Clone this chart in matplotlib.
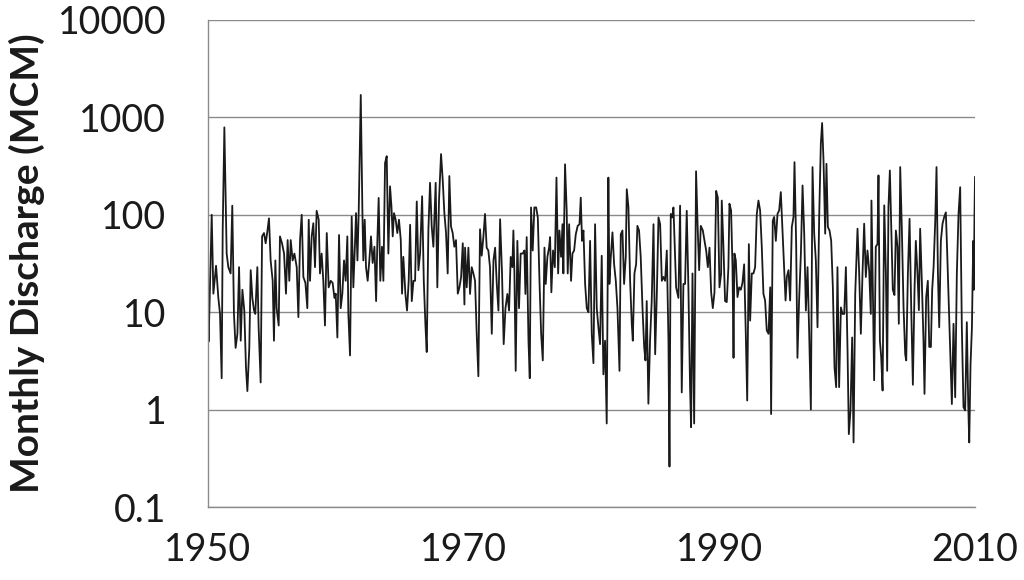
import numpy as np
import matplotlib.pyplot as plt
from matplotlib.ticker import FixedLocator, FixedFormatter

# Monthly discharge readings (turning points), years since 1950
t_1950s = [0.00, 0.05, 0.29, 0.42, 0.63, 0.81, 0.94, 1.07, 1.15, 1.28, 1.46, 1.59, 1.77, 1.90,
           2.03, 2.16, 2.30, 2.43, 2.56, 2.69, 2.84, 2.97, 3.08, 3.23, 3.34, 3.47, 3.60, 3.70,
           3.86, 3.96, 4.12, 4.23, 4.38, 4.51, 4.64, 4.77, 4.90, 5.06, 5.16, 5.27, 5.37, 5.53,
           5.63, 5.79, 5.95, 6.10, 6.23, 6.36, 6.47, 6.62, 6.76, 6.94, 7.07, 7.20, 7.33, 7.46,
           7.62, 7.77, 7.88, 7.98, 8.11, 8.24, 8.37, 8.50, 8.66, 8.76, 8.89, 9.02, 9.15, 9.29,
           9.44, 9.60, 9.75, 9.89]
q_1950s = [9, 5, 100, 15.5, 30, 14, 9.6, 2.1, 70, 790, 40, 29, 25, 124,
           9.6, 4.3, 6.0, 29, 5.1, 17, 10.4, 2.7, 1.55, 4.3, 27, 14, 10.4, 9.6,
           29, 7, 1.9, 60, 65, 51, 67, 92, 34, 21, 5.1, 34, 11, 7.3,
           60, 51, 40, 15.5, 55, 21, 55, 34, 40, 29, 8.9, 55, 100, 23,
           20, 11, 89, 21, 60, 82, 29, 110, 89, 25, 40, 21, 7.3, 65,
           18, 21, 20, 14]

t_1960s = [9.99, 10.12, 10.25, 10.38, 10.51, 10.64, 10.77, 10.90, 10.98, 11.11, 11.24, 11.37,
           11.50, 11.58, 11.69, 11.79, 11.95, 12.08, 12.15, 12.26, 12.36, 12.49, 12.62, 12.75,
           12.88, 13.02, 13.15, 13.25, 13.35, 13.48, 13.61, 13.72, 13.85, 13.98, 14.11, 14.24,
           14.35, 14.45, 14.55, 14.68, 14.81, 14.94, 15.08, 15.18, 15.28, 15.44, 15.57, 15.70,
           15.81, 15.94, 16.07, 16.20, 16.33, 16.46, 16.59, 16.75, 16.88, 17.01, 17.11, 17.24,
           17.37, 17.50, 17.63, 17.81, 17.94, 18.07, 18.23, 18.36, 18.49, 18.62, 18.75, 18.88,
           19.01, 19.14, 19.27, 19.40, 19.54, 19.67, 19.80, 19.93, 20.06]
q_1960s = [15.5, 5.5, 62, 11, 15.5, 34, 21, 60, 9.6, 3.6, 96, 18,
           51, 104, 34, 108, 1700, 104, 34, 89, 29, 21, 34, 60,
           32, 47, 13, 55, 149, 21, 47, 21, 340, 400, 40, 196,
           122, 60, 104, 89, 65, 89, 55, 15.5, 37, 15.5, 10.4, 21,
           79, 13, 21, 21, 137, 27, 40, 155, 21, 7.3, 3.9, 70,
           213, 76, 47, 213, 18, 140, 420, 230, 104, 65, 25, 250,
           76, 65, 47, 55, 15.5, 18, 23, 51, 12]

t_1970s = [20.11, 20.24, 20.37, 20.50, 20.63, 20.76, 20.89, 21.02, 21.15, 21.28, 21.41, 21.54,
           21.67, 21.80, 21.93, 22.06, 22.20, 22.33, 22.46, 22.59, 22.72, 22.85, 23.00, 23.13,
           23.27, 23.42, 23.55, 23.68, 23.81, 23.89, 23.97, 24.07, 24.20, 24.33, 24.46, 24.62,
           24.75, 24.83, 24.93, 25.07, 25.17, 25.27, 25.40, 25.53, 25.67, 25.80, 25.93, 26.06,
           26.19, 26.32, 26.42, 26.55, 26.68, 26.76, 26.86, 26.99, 27.13, 27.26, 27.39, 27.49,
           27.62, 27.73, 27.80, 27.93, 28.06, 28.14, 28.25, 28.40, 28.51, 28.64, 28.77, 28.92,
           29.06, 29.16, 29.26, 29.37, 29.50, 29.63, 29.76, 29.89, 30.02, 30.15, 30.28]
q_1970s = [46, 18, 46, 15.4, 29, 25, 21, 6, 2.2, 71, 38, 59,
           102, 46, 43, 29, 6, 34, 46, 19.5, 10.4, 90, 25, 4.7,
           11, 15.4, 10.4, 37, 29, 69, 25, 2.5, 54, 11, 40, 40,
           43, 15.4, 59, 5.1, 2.1, 119, 43, 119, 119, 94, 21, 6,
           3.2, 46, 19.5, 37, 46, 59, 16, 43, 29, 241, 25, 69,
           37, 80, 25, 330, 110, 25, 80, 21, 40, 43, 63, 77,
           80, 150, 54, 69, 19.5, 11, 10, 54, 6, 3.0, 80]

t_1980s = [30.41, 30.54, 30.67, 30.80, 30.93, 31.06, 31.19, 31.32, 31.40, 31.51, 31.64, 31.77,
           31.90, 32.03, 32.19, 32.29, 32.42, 32.55, 32.68, 32.76, 32.89, 33.02, 33.15, 33.23,
           33.36, 33.49, 33.59, 33.72, 33.85, 33.99, 34.12, 34.22, 34.32, 34.45, 34.58, 34.71,
           34.85, 34.98, 35.11, 35.24, 35.37, 35.50, 35.63, 35.76, 35.89, 36.02, 36.10, 36.20,
           36.31, 36.41, 36.52, 36.62, 36.80, 36.93, 37.06, 37.19, 37.32, 37.45, 37.58, 37.71,
           37.79, 37.90, 38.03, 38.18, 38.31, 38.42, 38.55, 38.71, 38.84, 38.97, 39.10, 39.23,
           39.36, 39.49, 39.62, 39.75, 39.88, 40.01, 40.14]
q_1980s = [11, 7, 4.7, 38, 2.3, 5.1, 0.72, 241, 19.5, 37, 66, 31,
           21, 11, 2.5, 63, 69, 19.5, 37, 183, 119, 21, 7.6, 5.1,
           25, 31, 77, 69, 37, 11, 4.4, 3.2, 13, 1.15, 5.1, 13,
           80, 3.7, 15.4, 94, 80, 21, 23, 21, 43, 5.1, 0.26, 102,
           94, 119, 46, 18, 14, 124, 1.5, 19.5, 19.5, 110, 18, 1.7,
           0.66, 25, 0.72, 280, 71, 27, 77, 69, 54, 43, 29, 46,
           16, 11, 16, 176, 150, 18, 25]

t_1990s = [40.19, 40.32, 40.45, 40.58, 40.71, 40.79, 40.92, 41.03, 41.11, 41.18, 41.29, 41.42,
           41.55, 41.68, 41.81, 41.94, 42.07, 42.18, 42.31, 42.41, 42.54, 42.67, 42.80, 42.93,
           43.06, 43.19, 43.32, 43.45, 43.58, 43.71, 43.85, 43.98, 44.05, 44.18, 44.29, 44.42,
           44.55, 44.68, 44.81, 44.94, 45.07, 45.18, 45.28, 45.41, 45.54, 45.67, 45.80, 45.88,
           46.01, 46.11, 46.24, 46.38, 46.51, 46.64, 46.77, 46.90, 47.03, 47.16, 47.29, 47.42,
           47.55, 47.68, 47.81, 47.94, 48.04, 48.15, 48.28, 48.38, 48.49, 48.62, 48.75, 48.88,
           49.01, 49.14, 49.24, 49.37, 49.51, 49.64, 49.77, 49.90, 50.03, 50.13, 50.26, 50.39,
           50.50, 50.63]
q_1990s = [140, 47, 13, 12.7, 29, 130, 111, 29, 3.4, 40, 34, 14.3,
           18, 17, 20, 31, 6, 1.24, 50, 8.2, 25, 25, 29, 102,
           140, 111, 47, 15.4, 13.2, 6.5, 6, 18, 0.9, 87, 95, 54,
           102, 111, 171, 69, 27, 13.2, 23, 27, 13.2, 75, 95, 347,
           50, 3.4, 13.2, 40, 200, 64, 10.4, 29, 6, 1.0, 309, 64,
           34, 7, 95, 536, 875, 361, 64, 334, 75, 69, 54, 18,
           2.7, 1.7, 29, 1.7, 11.2, 9.6, 9.6, 29, 4.0, 0.56, 0.98, 5.5,
           0.46, 15.4]

t_2000s = [50.81, 50.94, 51.07, 51.20, 51.33, 51.46, 51.59, 51.72, 51.85, 51.90, 52.01, 52.11,
           52.24, 52.37, 52.45, 52.56, 52.66, 52.77, 52.90, 53.03, 53.13, 53.23, 53.34, 53.44,
           53.57, 53.70, 53.81, 53.94, 54.04, 54.15, 54.28, 54.41, 54.54, 54.62, 54.75, 54.88,
           55.01, 55.14, 55.27, 55.37, 55.50, 55.61, 55.71, 55.84, 55.97, 56.05, 56.18, 56.31,
           56.42, 56.55, 56.65, 56.76, 56.89, 56.99, 57.10, 57.20, 57.33, 57.46, 57.59, 57.72,
           57.82, 57.96, 58.09, 58.19, 58.32, 58.45, 58.58, 58.71, 58.84, 58.97, 59.10, 59.23,
           59.36, 59.47, 59.55, 59.65, 59.76, 59.86, 59.91, 59.96, 60.00]
q_2000s = [72, 25, 6, 25, 81, 23, 43, 27, 9.6, 140, 17, 2.0,
           47, 50, 254, 5.1, 3.5, 1.57, 125, 25, 2.5, 120, 285, 81,
           17, 15, 69, 47, 7.6, 309, 69, 11.2, 3.7, 3.2, 25, 91,
           11.2, 1.8, 17, 54, 25, 10.5, 72, 21, 5.1, 1.45, 14.3, 21,
           4.4, 4.4, 17, 29, 87, 309, 25, 7, 54, 81, 95, 106,
           43, 11.2, 3.2, 1.14, 7.6, 1.34, 25, 102, 192, 7, 1.06, 0.98,
           7.9, 1.14, 0.46, 2.9, 7, 54, 17, 102, 244]

y_ticks = [0.1, 1, 10, 100, 1000, 10000]
y_tick_labels = ['0.1', '1', '10', '100', '1000', '10000']
x_ticks = [1950, 1970, 1990, 2010]

years = 1950 + np.array(t_1950s + t_1960s + t_1970s + t_1980s + t_1990s + t_2000s)
discharge = np.array(q_1950s + q_1960s + q_1970s + q_1980s + q_1990s + q_2000s)

plt.rcParams['font.family'] = ['Lato', 'DejaVu Sans']

fig = plt.figure(figsize=(10.24, 5.8), dpi=100)
ax = fig.add_axes([208 / 1024, 1 - 507 / 580, 767 / 1024, 487 / 580])

ax.plot(years, discharge, color='#1a1a1a', linewidth=1.3)

ax.set_yscale('log')
ax.set_ylim(0.1, 10000)
ax.set_xlim(1950, 2010)
ax.yaxis.set_major_locator(FixedLocator(y_ticks))
ax.yaxis.set_major_formatter(FixedFormatter(y_tick_labels))
ax.yaxis.set_minor_locator(FixedLocator([]))
ax.set_xticks(x_ticks)
ax.set_xticklabels([str(x) for x in x_ticks])

ax.grid(axis='y', color='#8a8a8a', linewidth=1.0)
ax.set_axisbelow(True)
for side in ['top', 'right']:
    ax.spines[side].set_visible(False)
for side in ['left', 'bottom']:
    ax.spines[side].set_color('#8a8a8a')
    ax.spines[side].set_linewidth(1.0)

ax.tick_params(axis='both', length=0, labelsize=27, colors='#1a1a1a')
ax.tick_params(axis='y', pad=30)
ax.tick_params(axis='x', pad=18)

ax.set_ylabel('Monthly Discharge (MCM)', fontsize=28, fontweight='bold', color='#1a1a1a')
ax.yaxis.set_label_coords(-0.212, 0.5)

fig.savefig('out.png', dpi=100)
